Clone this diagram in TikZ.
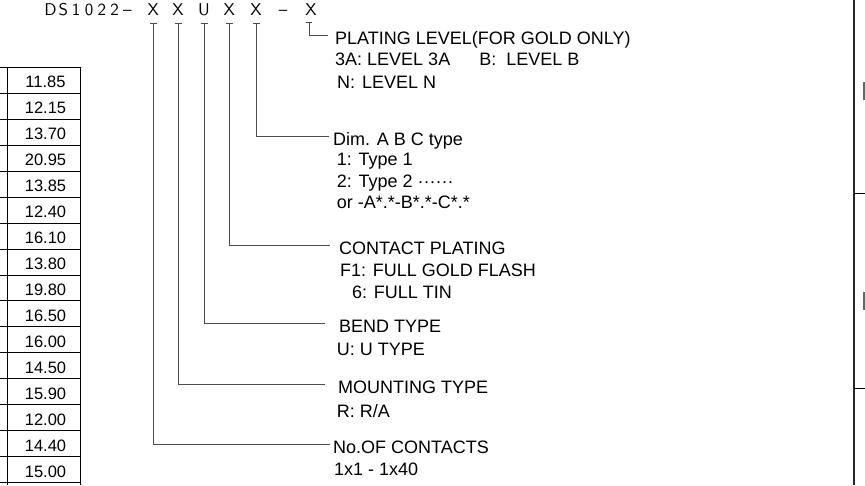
\documentclass[tikz,border=0pt]{standalone}
\usepackage{fontspec}
\setmainfont{Liberation Sans}
\newfontfamily\cadfont{lmsans10-regular.otf}
\usetikzlibrary{calc}

\begin{document}
\begin{tikzpicture}[
    x=1pt, y=-1pt,
    hdr/.style={font=\cadfont\fontsize{17}{18}\selectfont, inner sep=0pt, anchor=base},
    lead/.style={black!70, line width=0.9pt},
    grid/.style={black, line width=0.8pt},
    title/.style={font=\fontsize{18}{20}\selectfont, anchor=west, inner ysep=0pt,
                  inner xsep=5pt, text height=18pt, text depth=0pt},
    item/.style={font=\fontsize{18}{20}\selectfont, anchor=base west, inner sep=0pt},
    cell/.style={font=\fontsize{16.5}{18}\selectfont, inner sep=0pt, anchor=base},
]
\useasboundingbox (0,0) rectangle (865,485);

% =============================================
% PART NUMBER HEADER
% =============================================
\foreach \c [count=\i from 0] in {D,S,1,0,2,2,–}
  \node[hdr] (h\i) at ({50.6+12.8*\i},15) {\c};
\node[hdr] (x1) at (153.3,15) {X};
\node[hdr] (x2) at (178,15) {X};
\node[hdr] (x3) at (204,15) {U};
\node[hdr] (x4) at (229.3,15) {X};
\node[hdr] (x5) at (256,15) {X};
\node[hdr] (hd) at (283,15) {–};
\node[hdr] (x7) at (311,15) {X};

% =============================================
% FIELD DESCRIPTIONS
% =============================================
\node[title, inner xsep=7pt] (pl) at (328,35) {PLATING LEVEL(FOR GOLD ONLY)};
\node[item] (pl1) at (335,65) {3A: LEVEL 3A\hspace{29pt}B:\hspace{10pt}LEVEL B};
\node[item] (pl2) at (337,88) {N:\hspace{7pt}LEVEL N};

\node[title, inner xsep=4pt] (dim) at (329,136) {Dim. A B C type};
\node[item] (d1) at (336.7,165) {1: Type 1};
\node[item] (d2) at (336.7,187) {2: Type 2 ······};
\node[item] (d3) at (336.7,208) {or -A*.*-B*.*-C*.*};

\node[title, inner xsep=9pt] (cp) at (330,245.7) {CONTACT PLATING};
\node[item] (cp1) at (340,276) {F1: FULL GOLD FLASH};
\node[item] (cp2) at (352,298.5) {6: FULL TIN};

\node[title, inner xsep=14pt] (bt) at (325,323) {BEND TYPE};
\node[item] (bt1) at (336.7,355.5) {U: U TYPE};

\node[title, inner xsep=13pt] (mt) at (325,384) {MOUNTING TYPE};
\node[item] (mt1) at (336.7,417) {R: R/A};

\node[title, inner xsep=3pt] (nc) at (330,444) {No.OF CONTACTS};
\node[item] (nc1) at (334,475.5) {1x1 - 1x40};

% Leaders from each code letter
\foreach \n/\t in {x1/nc, x2/mt, x3/bt, x4/cp, x5/dim} {
  \draw[lead] ([xshift=-3.5pt,yshift=-8pt]\n.south) -- ++(7,0);
  \draw[lead] ([yshift=-8pt]\n.south) |- (\t.west);
}
\draw[lead] ([xshift=-5pt,yshift=-7pt]x7.south) -- ++(6,0);
\draw[lead] ([xshift=-2pt,yshift=-7pt]x7.south) |- (pl.west);

% =============================================
% DIMENSION TABLE (left, cut off)
% =============================================
\foreach \i in {0,...,16}
  \draw[grid] (0,{67.3+25.95*\i}) -- (80,{67.3+25.95*\i});
\draw[grid] (7.3,67.3) -- (7.3,485);
\draw[grid] (80,67.3) -- (80,485);
\foreach \v [count=\i from 0] in {11.85,12.15,13.70,20.95,13.85,12.40,16.10,13.80,
    19.80,16.50,16.00,14.50,15.90,12.00,14.40,15.00}
  \node[cell] (c\i) at (45.5,{67.3+25.95*\i+20.5}) {\v};

% =============================================
% FRAME (right, cut off)
% =============================================
\draw[black!85, line width=1.3pt] (854,0) -- (854,485);
\draw[grid] (854,193.3) -- (865,193.3);
\draw[grid] (854,388.3) -- (865,388.3);
\draw[black!60, line width=1.6pt] (864,82) -- (864,100);
\draw[black!60, line width=1.6pt] (864,292) -- (864,310);

\end{tikzpicture}
\end{document}
